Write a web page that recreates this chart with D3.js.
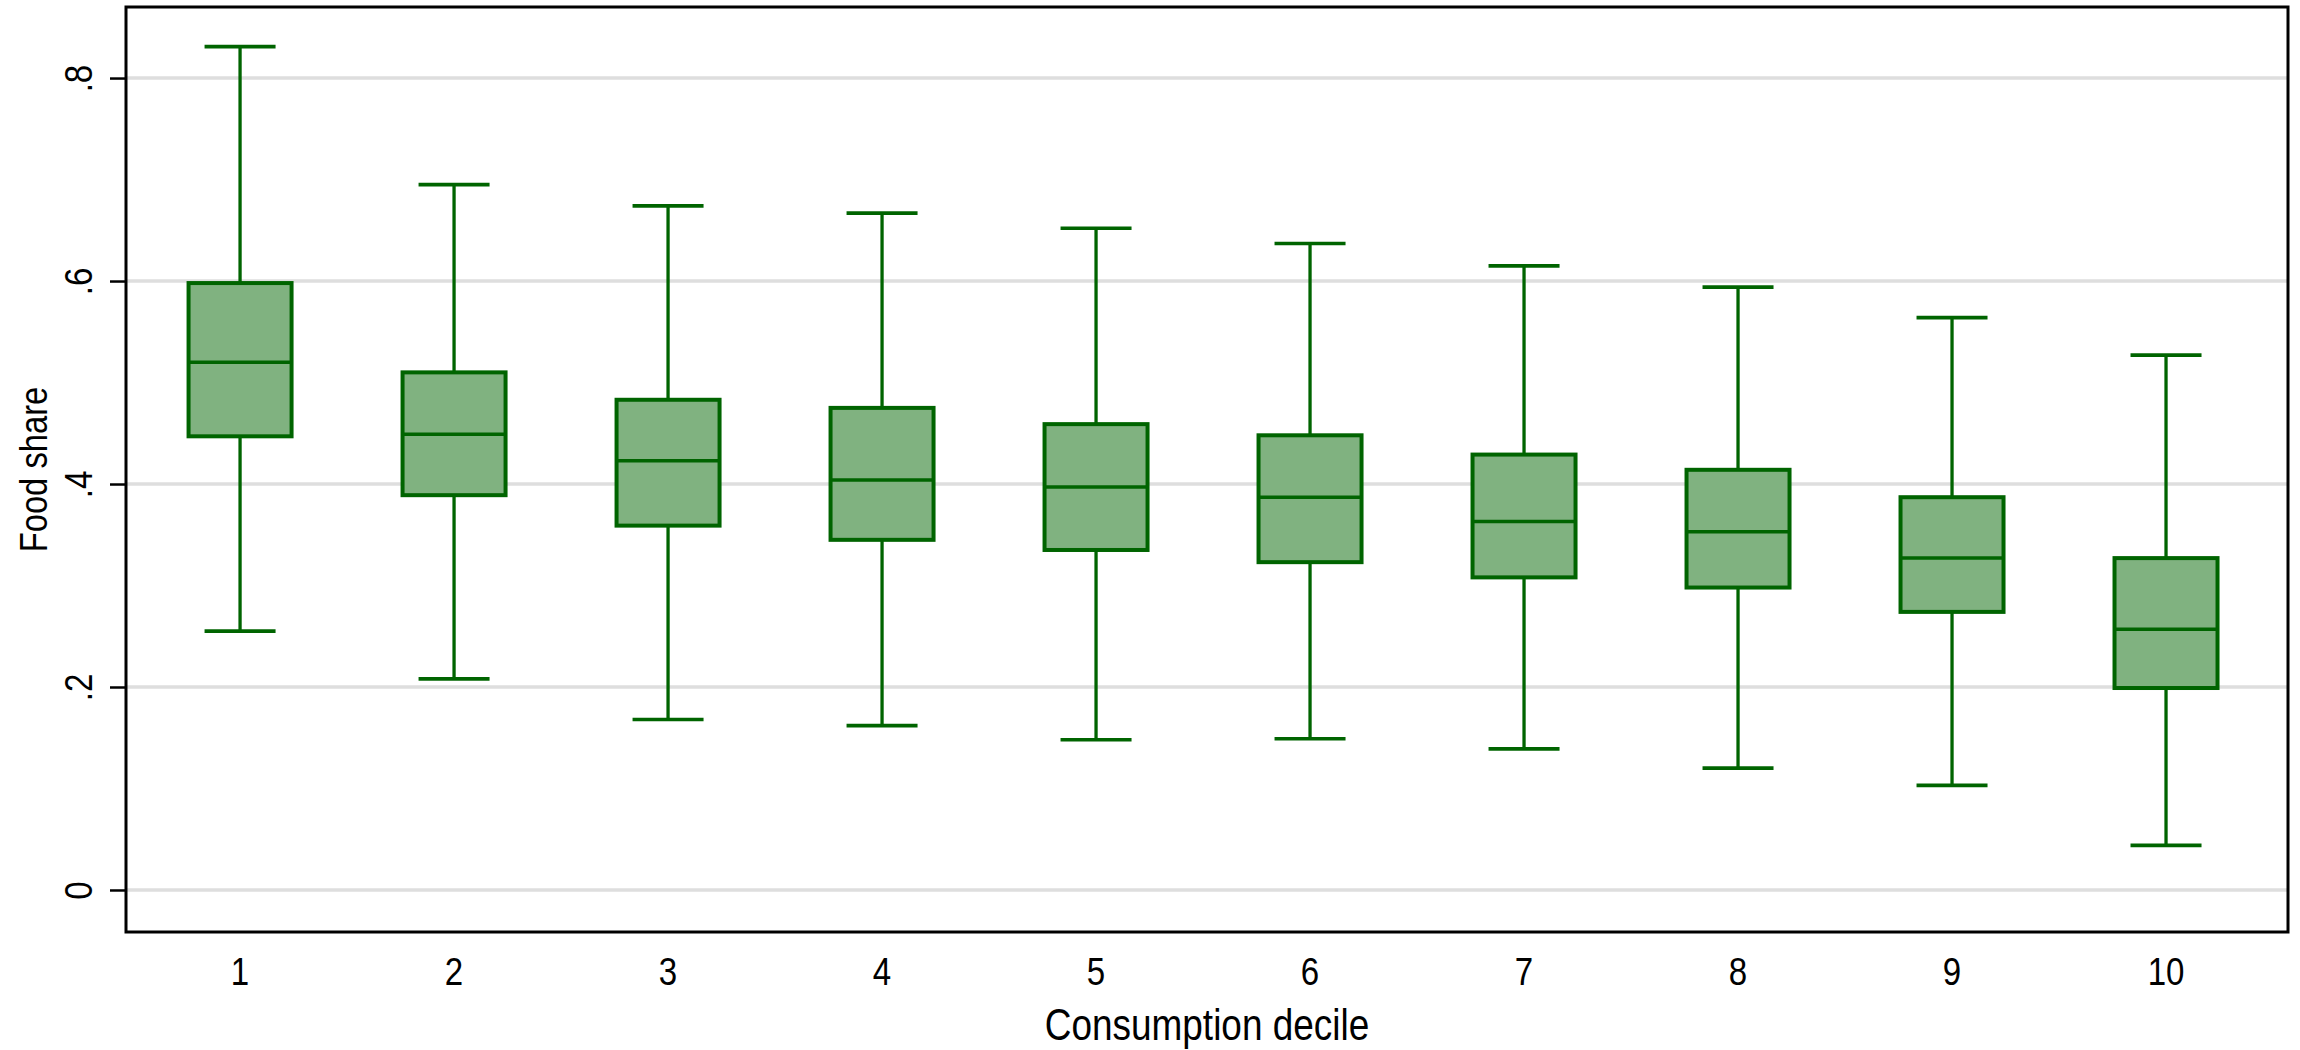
<!DOCTYPE html>
<html>
<head>
<meta charset="utf-8">
<script src="https://cdn.jsdelivr.net/npm/d3@7"></script>
<style>
  html, body { margin: 0; padding: 0; background: #ffffff; }
  svg { display: block; }
  text { font-family: "Liberation Sans", Arial, sans-serif; fill: #000; }
</style>
</head>
<body>
<svg id="chart" width="2300" height="1050"></svg>
<script>
// ---- Data ----
const categories = ["1", "2", "3", "4", "5", "6", "7", "8", "9", "10"];
const deciles = [1, 2, 3, 4, 5, 6, 7, 8, 9, 10];
const whiskerHigh = [0.831, 0.695, 0.674, 0.667, 0.652, 0.637, 0.615, 0.594, 0.564, 0.527];
const q3 = [0.598, 0.510, 0.483, 0.475, 0.459, 0.448, 0.429, 0.414, 0.387, 0.327];
const median = [0.520, 0.449, 0.423, 0.404, 0.397, 0.387, 0.363, 0.353, 0.327, 0.257];
const q1 = [0.447, 0.389, 0.359, 0.345, 0.335, 0.323, 0.308, 0.298, 0.274, 0.199];
const whiskerLow = [0.255, 0.208, 0.168, 0.162, 0.148, 0.149, 0.139, 0.120, 0.103, 0.044];
const yTickValues = [0, 0.2, 0.4, 0.6, 0.8];
const yTickLabels = ["0", ".2", ".4", ".6", ".8"];
const xTitle = "Consumption decile";
const yTitle = "Food share";

const rows = deciles.map((d, i) => ({
  d, label: categories[i], lo: whiskerLow[i], q1: q1[i], med: median[i], q3: q3[i], hi: whiskerHigh[i]
}));

// ---- Layout ----
const plot = { left: 126, right: 2288, top: 7, bottom: 932 };
const stroke = "#006400";
const fill = "#80b280";
const narrow = 0.84;
const tickNarrow = 0.87;

const x = d3.scaleLinear().domain([0.467, 10.57]).range([plot.left, plot.right]);
const y = d3.scaleLinear().domain([-0.0414, 0.87]).range([plot.bottom, plot.top]);

const svg = d3.select("#chart");
svg.append("rect").attr("width", 2300).attr("height", 1050).attr("fill", "#fff");

// gridlines
svg.append("g").selectAll("line").data(yTickValues).join("line")
  .attr("x1", plot.left).attr("x2", plot.right)
  .attr("y1", d => y(d)).attr("y2", d => y(d))
  .attr("stroke", "#dedede").attr("stroke-width", 3.5);

// y axis ticks + labels
const yAxis = d3.axisLeft(y).tickValues(yTickValues).tickSize(16).tickPadding(0)
  .tickFormat((d, i) => yTickLabels[i]);
const ya = svg.append("g").attr("transform", `translate(${plot.left},0)`).call(yAxis);
ya.select(".domain").remove();
ya.selectAll(".tick line").attr("stroke", "#000").attr("stroke-width", 2.5);
ya.selectAll(".tick text")
  .attr("x", null).attr("dy", null)
  .attr("text-anchor", "middle")
  .attr("font-size", 38)
  .attr("transform", `translate(-34,0) rotate(-90) scale(${tickNarrow},1)`);

// boxes
const boxW = 103, capW = 71;
const g = svg.append("g");
const bx = g.selectAll("g.box").data(rows).join("g").attr("class", "box");

bx.append("line")
  .attr("x1", d => x(d.d)).attr("x2", d => x(d.d))
  .attr("y1", d => y(d.q3)).attr("y2", d => y(d.hi))
  .attr("stroke", stroke).attr("stroke-width", 3.3);
bx.append("line")
  .attr("x1", d => x(d.d)).attr("x2", d => x(d.d))
  .attr("y1", d => y(d.q1)).attr("y2", d => y(d.lo))
  .attr("stroke", stroke).attr("stroke-width", 3.3);
bx.append("line")
  .attr("x1", d => x(d.d) - capW / 2).attr("x2", d => x(d.d) + capW / 2)
  .attr("y1", d => y(d.hi)).attr("y2", d => y(d.hi))
  .attr("stroke", stroke).attr("stroke-width", 3.7);
bx.append("line")
  .attr("x1", d => x(d.d) - capW / 2).attr("x2", d => x(d.d) + capW / 2)
  .attr("y1", d => y(d.lo)).attr("y2", d => y(d.lo))
  .attr("stroke", stroke).attr("stroke-width", 3.7);
bx.append("rect")
  .attr("x", d => x(d.d) - boxW / 2).attr("width", boxW)
  .attr("y", d => y(d.q3)).attr("height", d => y(d.q1) - y(d.q3))
  .attr("fill", fill).attr("stroke", stroke).attr("stroke-width", 4);
bx.append("line")
  .attr("x1", d => x(d.d) - boxW / 2).attr("x2", d => x(d.d) + boxW / 2)
  .attr("y1", d => y(d.med)).attr("y2", d => y(d.med))
  .attr("stroke", stroke).attr("stroke-width", 3.5);

// frame
svg.append("rect")
  .attr("x", plot.left).attr("y", plot.top)
  .attr("width", plot.right - plot.left).attr("height", plot.bottom - plot.top)
  .attr("fill", "none").attr("stroke", "#000").attr("stroke-width", 3);

// x tick labels
svg.append("g").selectAll("text").data(rows).join("text")
  .attr("text-anchor", "middle")
  .attr("font-size", 38)
  .attr("transform", d => `translate(${x(d.d)},985) scale(${tickNarrow},1)`)
  .text(d => d.label);

// titles
svg.append("text")
  .attr("text-anchor", "middle").attr("font-size", 44)
  .attr("transform", `translate(${(plot.left + plot.right) / 2},1040) scale(${narrow},1)`)
  .text(xTitle);
svg.append("text")
  .attr("text-anchor", "middle").attr("font-size", 39)
  .attr("transform", `translate(47,${(plot.top + plot.bottom) / 2}) rotate(-90) scale(${narrow},1)`)
  .text(yTitle);
</script>
</body>
</html>
